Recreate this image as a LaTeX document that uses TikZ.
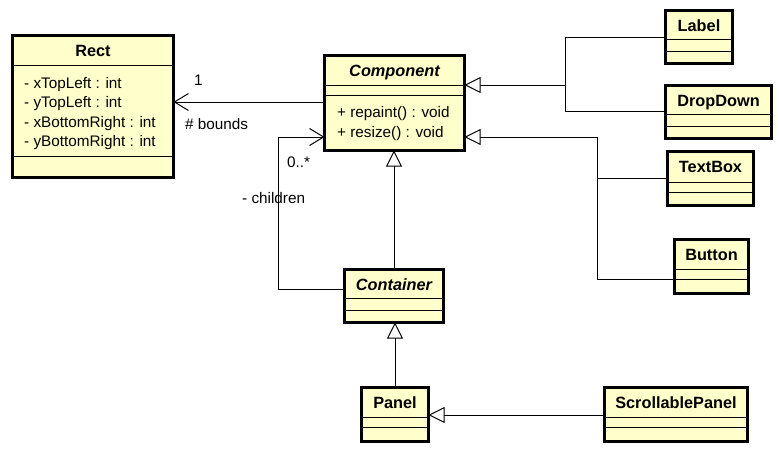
\documentclass[tikz,border=0pt]{standalone}
\usepackage{fontspec}
\setmainfont{Liberation Sans}
\usetikzlibrary{arrows.meta}

\definecolor{classfill}{HTML}{FFFFCC}

\tikzset{
  cls/.style={draw=black, line width=3pt, fill=classfill, rectangle, inner sep=0pt, outer sep=0pt},
  compline/.style={draw=black, line width=1pt},
  clsname/.style={anchor=base, inner sep=0pt, font=\fontsize{16.3}{19}\selectfont\bfseries},
  absname/.style={clsname, font=\fontsize{16.3}{19}\selectfont\bfseries\itshape},
  member/.style={anchor=base west, inner sep=0pt, font=\fontsize{15.3}{18}\selectfont},
  role/.style={anchor=base west, inner sep=0pt, font=\fontsize{15.3}{18}\selectfont},
  conn/.style={draw=black, line width=1pt},
  assoc/.style={conn, -{Straight Barb[length=14pt, width=17pt, line width=1pt]}},
  gen/.style={conn, -{Triangle[open, length=16pt, width=16pt, line width=1pt, fill=white]}},
}

% class box: #1 name, #2 left, #3 top, #4 right, #5 bottom,
% #6 first compartment line, #7 second compartment line, #8 title style, #9 title
\newcommand{\classbox}[9]{%
  \node[cls, anchor=north west, minimum width={#4-#2-3}, minimum height={#5-#3-3}]
    (#1) at ({#2+1.5},{#3+1.5}) {};
  \draw[compline] (#2,#6) -- (#4,#6);
  \draw[compline] (#2,#7) -- (#4,#7);
  \draw[cls, fill=none] (#1.north west) rectangle (#1.south east);
  \node[#8] (#1-title) at ({(#2+#4)/2},{#3+22.5}) {#9};
}

\begin{document}
\begin{tikzpicture}[x=1pt, y=-1pt]
  \useasboundingbox[fill=white] (0,0) rectangle (779,455);

  % classes
  \classbox{rect}{11}{34}{175}{179}{65}{156}{clsname}{Rect}
  \node[member] (rect-a1) at (24,88) {- xTopLeft : int};
  \node[member] (rect-a2) at (24,107.5) {- yTopLeft : int};
  \node[member] (rect-a3) at (24,127) {- xBottomRight : int};
  \node[member] (rect-a4) at (24,146.5) {- yBottomRight : int};

  \classbox{comp}{323}{54}{466}{152}{85}{95}{absname}{Component}
  \node[member] (comp-m1) at (337,117.7) {+ repaint() : void};
  \node[member] (comp-m2) at (337,137.5) {+ resize() : void};

  \classbox{label}{664}{9}{734}{65}{39}{51}{clsname}{Label}
  \classbox{dropdown}{664}{84}{773}{140}{114}{126}{clsname}{DropDown}
  \classbox{textbox}{666}{150}{755}{207}{182}{192}{clsname}{TextBox}
  \classbox{button}{673}{238}{750}{295}{269}{279}{clsname}{Button}
  \classbox{cont}{343}{268}{445}{324}{298}{310}{absname}{Container}
  \classbox{panel}{360}{386}{430}{443}{417}{427}{clsname}{Panel}
  \classbox{scroll}{603}{386}{749}{443}{417}{427}{clsname}{ScrollablePanel}

  % associations
  \draw[assoc] (comp.west |- 0,102) -- (rect.east |- 0,102);
  \node[role] (bounds-mult) at (194,85) {1};
  \node[role] (bounds-role) at (185,129) {\# bounds};

  \coordinate (childbend) at (278,289);
  \draw[assoc] (cont.west |- childbend) -- (childbend) -- (childbend |- 0,137) -- (comp.west |- 0,137);
  \node[role] (children-mult) at (287,167) {0..*};
  \node[role] (children-role) at (242,203) {- children};

  % generalizations
  \draw[gen] (cont.north -| 394,0) -- (comp.south -| 394,0);
  \draw[gen] (panel.north -| 395,0) -- (cont.south -| 395,0);
  \draw[gen] (scroll.west |- 0,415) -- (panel.east |- 0,415);

  \coordinate (busA) at (565,85);
  \draw[conn] (label.west |- 0,37) -| (busA |- 0,111) -- (dropdown.west |- 0,111);
  \draw[gen] (busA) -- (comp.east |- busA);

  \coordinate (busB) at (597,137);
  \draw[conn] (textbox.west |- 0,178) -- (busB |- 0,178);
  \draw[gen] (button.west |- 0,279) -| (busB) -- (comp.east |- busB);
\end{tikzpicture}
\end{document}
